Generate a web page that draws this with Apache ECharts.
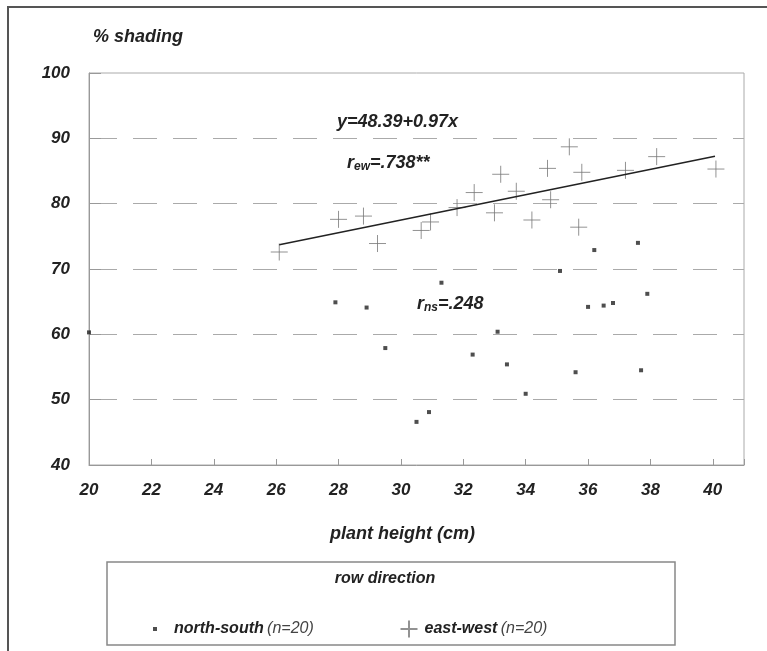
<!DOCTYPE html>
<html>
<head>
<meta charset="utf-8">
<script src="https://cdn.jsdelivr.net/npm/echarts@6/dist/echarts.min.js"></script>
<style>html,body{margin:0;padding:0;background:#fff}#c{width:767px;height:651px}</style>
</head>
<body>
<div id="c"></div>
<script>
// ---- data ----
const xTicks = [20, 22, 24, 26, 28, 30, 32, 34, 36, 38, 40];
const yTicks = [40, 50, 60, 70, 80, 90, 100];
const nsX = [20.0, 27.9, 28.9, 29.5, 30.5, 30.9, 31.3, 32.3, 33.1, 33.4, 34.0, 35.1, 35.6, 36.0, 36.2, 36.5, 36.8, 37.6, 37.7, 37.9];
const nsY = [60.3, 64.9, 64.1, 57.9, 46.6, 48.1, 67.9, 56.9, 60.4, 55.4, 50.9, 69.7, 54.2, 64.2, 72.9, 64.4, 64.8, 74.0, 54.5, 66.2];
const ewX = [26.1, 28.0, 28.8, 29.25, 30.65, 30.95, 31.8, 32.35, 33.0, 33.2, 33.7, 34.2, 34.7, 34.8, 35.4, 35.7, 35.8, 37.2, 38.2, 40.1];
const ewY = [72.6, 77.6, 78.1, 73.9, 75.9, 77.2, 79.4, 81.7, 78.6, 84.5, 81.9, 77.5, 85.4, 80.6, 88.7, 76.4, 84.8, 85.1, 87.2, 85.3];
const regCoef = [48.39, 0.97];          // intercept, slope (east-west)
const regRange = [26.1, 40.07];         // x extent of fitted line
const seriesNames = ['north-south', 'east-west'];

const FONT = '"Liberation Sans", Arial, sans-serif';
const TXT = '#222';
const cross = 'path://M0,10 L20,10 M10,0 L10,20';

const ns = nsX.map((x, i) => [x, nsY[i]]);
const ew = ewX.map((x, i) => [x, ewY[i]]);
const reg = regRange.map(x => [x, regCoef[0] + regCoef[1] * x]);

const chart = echarts.init(document.getElementById('c'), null, {renderer: 'canvas'});
const legendFmt = name => `{b|${name}} {n|(n=${name === seriesNames[0] ? nsX.length : ewX.length})}`;
const legendRich = {
  b: {fontFamily: FONT, fontSize: 16, fontWeight: 'bold', fontStyle: 'italic', color: TXT},
  n: {fontFamily: FONT, fontSize: 16, fontStyle: 'italic', color: '#444'}
};
const lbl = {fontFamily: FONT, fontSize: 17, fontWeight: 'bold', fontStyle: 'italic', color: TXT};
chart.setOption({
  animation: false,
  backgroundColor: '#fff',
  grid: {left: 89, top: 73, right: 23, bottom: 186, show: true, borderColor: '#aaa', borderWidth: 1},
  xAxis: {
    type: 'value', min: 20, max: 41, interval: 2,
    name: 'plant height (cm)', nameLocation: 'middle', nameGap: 60,
    nameTextStyle: Object.assign({}, lbl, {fontSize: 18, padding: [0, 28, 0, 0]}),
    axisLine: {lineStyle: {color: '#999', width: 1}},
    axisTick: {inside: true, length: 6, lineStyle: {color: '#999'}},
    axisLabel: Object.assign({margin: 17, formatter: v => xTicks.indexOf(v) >= 0 ? String(v) : ''}, lbl),
    splitLine: {show: false}
  },
  yAxis: {
    type: 'value', min: 40, max: 100, interval: 10,
    name: '% shading', nameLocation: 'end', nameGap: 27,
    nameTextStyle: Object.assign({}, lbl, {fontSize: 18, align: 'left', padding: [0, 0, 0, 4]}),
    axisLine: {show: true, lineStyle: {color: '#999', width: 1}},
    axisTick: {show: true, inside: true, length: 12, lineStyle: {color: '#999'}},
    axisLabel: Object.assign({margin: 19, formatter: v => yTicks.indexOf(v) >= 0 ? String(v) : ''}, lbl),
    splitLine: {show: true, showMinLine: false, showMaxLine: false,
      lineStyle: {color: '#aaa', width: 1, type: [24, 16], dashOffset: -4}}
  },
  legend: [
    {data: [seriesNames[0]], left: 148, top: 616, icon: 'rect', itemWidth: 4, itemHeight: 4,
     formatter: legendFmt, textStyle: {rich: legendRich, padding: [0, 0, 0, 12]}},
    {data: [seriesNames[1]], left: 393, top: 613, icon: cross, itemWidth: 17, itemHeight: 17,
     formatter: legendFmt, textStyle: {rich: legendRich, padding: [0, 0, 0, 2]}}
  ],
  series: [
    {name: seriesNames[0], type: 'scatter', data: ns, symbol: 'rect', symbolSize: 4,
     itemStyle: {color: '#222'}, z: 3},
    {name: seriesNames[1], type: 'scatter', data: ew, symbol: cross, symbolSize: 17,
     itemStyle: {color: 'none', borderColor: '#777', borderWidth: 1}, z: 3},
    {name: 'fit', type: 'line', data: reg, symbol: 'none', lineStyle: {color: '#222', width: 1.5}, z: 4}
  ],
  graphic: [
    {type: 'rect', shape: {x: 8, y: 7, width: 900, height: 900}, style: {fill: 'none', stroke: '#555', lineWidth: 2}, silent: true},
    {type: 'rect', shape: {x: 107, y: 562, width: 568, height: 83}, style: {fill: 'none', stroke: '#888', lineWidth: 1.5}, silent: true},
    {type: 'text', x: 385, y: 579, style: {text: 'row direction', textAlign: 'center', textVerticalAlign: 'middle',
      font: `italic bold 16px ${FONT}`, fill: TXT}},
    {type: 'text', x: 337, y: 122, style: {text: 'y=48.39+0.97x', textVerticalAlign: 'middle',
      font: `italic bold 18px ${FONT}`, fill: TXT}},
    {type: 'text', x: 347, y: 162, style: {text: '{r|r}{s|ew}{r|=.738**}', textVerticalAlign: 'middle',
      rich: {r: {font: `italic bold 18px ${FONT}`, fill: TXT, verticalAlign: 'bottom', lineHeight: 21},
             s: {font: `italic bold 12px ${FONT}`, fill: TXT, verticalAlign: 'bottom', lineHeight: 16}}}},
    {type: 'text', x: 417, y: 303, style: {text: '{r|r}{s|ns}{r|=.248}', textVerticalAlign: 'middle',
      rich: {r: {font: `italic bold 18px ${FONT}`, fill: TXT, verticalAlign: 'bottom', lineHeight: 21},
             s: {font: `italic bold 12px ${FONT}`, fill: TXT, verticalAlign: 'bottom', lineHeight: 16}}}}
  ]
});
</script>
</body>
</html>
